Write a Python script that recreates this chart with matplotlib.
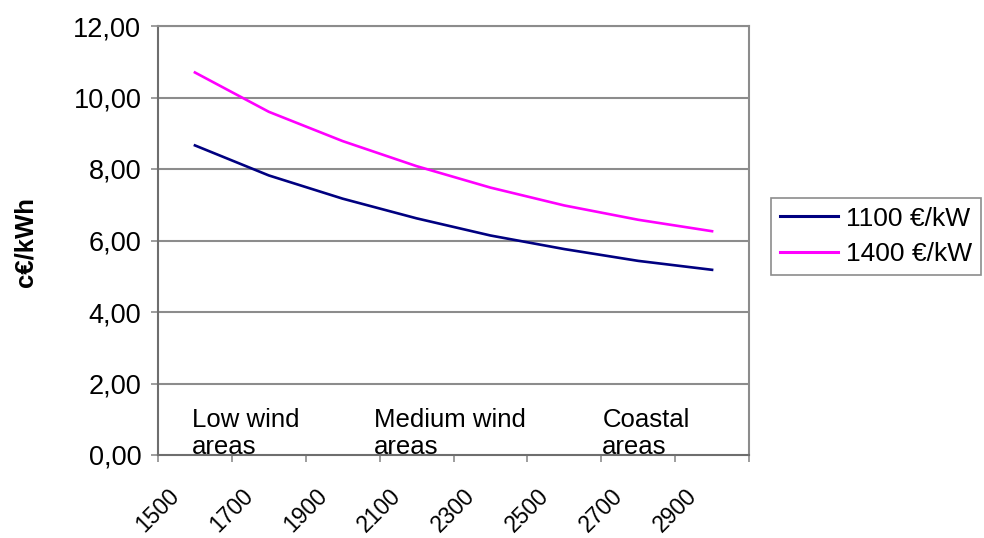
import matplotlib
matplotlib.use("Agg")
import matplotlib.pyplot as plt

# ---- data ----
hours = [1600, 1800, 2000, 2200, 2400, 2600, 2800, 3000]
cost_1100 = [8.66, 7.82, 7.17, 6.62, 6.14, 5.76, 5.43, 5.18]
cost_1400 = [10.70, 9.60, 8.78, 8.08, 7.48, 6.98, 6.58, 6.26]
series_labels = ["1100 €/kW", "1400 €/kW"]
x_ticks = [1500, 1700, 1900, 2100, 2300, 2500, 2700, 2900, 3100]
x_tick_labels = ["1500", "1700", "1900", "2100", "2300", "2500", "2700", "2900", ""]
y_ticks = [0, 2, 4, 6, 8, 10, 12]
y_tick_labels = ["0,00", "2,00", "4,00", "6,00", "8,00", "10,00", "12,00"]
region_x = [1592, 2085, 2703]
region_labels = ["Low wind\nareas", "Medium wind\nareas", "Coastal\nareas"]
y_label = "c€/kWh"

plt.rcParams['font.family'] = ['Liberation Sans', 'DejaVu Sans']

fig = plt.figure(figsize=(9.84, 5.38), dpi=100)
ax = fig.add_axes([158/984, 1-455/538, (749-158)/984, (455-26)/538])

grid_c = "#8c8c8c"
ax.plot(hours, cost_1100, color="#000080", lw=1.9, label=series_labels[0], zorder=3)
ax.plot(hours, cost_1400, color="#ff00ff", lw=1.9, label=series_labels[1], zorder=3)

ax.set_xlim(1500, 3100)
ax.set_ylim(0, 12)
ax.set_yticks(y_ticks)
ax.set_yticklabels(y_tick_labels, fontsize=19.5)
ax.set_xticks(x_ticks)
ax.set_xticklabels(x_tick_labels, fontsize=16.5, rotation=45, ha="center")
ax.tick_params(axis="y", length=5, width=1.2, color=grid_c, pad=7)
ax.tick_params(axis="x", length=5, width=1.2, color=grid_c, pad=16)

for y in y_ticks[1:]:
    ax.axhline(y, color=grid_c, lw=1.5, zorder=1)
for s in ax.spines.values():
    s.set_color(grid_c)
    s.set_linewidth(1.5)
ax.spines['left'].set_color("#6e6e6e")
ax.spines['bottom'].set_color("#6e6e6e")

for xr, lab in zip(region_x, region_labels):
    ax.text(xr, 0.04, lab, fontsize=18.5, va="baseline", ha="left",
            linespacing=1.12, zorder=2)

fig.text(25/984, 1-242/538, y_label, rotation=90, fontsize=18.5,
         fontweight="bold", ha="center", va="center")

leg = fig.legend(loc="upper left", bbox_to_anchor=(771/984, 1-198/538),
                 fontsize=19, frameon=True, fancybox=False, framealpha=1,
                 edgecolor=grid_c, handlelength=2.2, handletextpad=0.3,
                 labelspacing=0.42, borderpad=0.33, borderaxespad=0)
leg.get_frame().set_linewidth(1.2)
for h in leg.get_lines():
    h.set_linewidth(2.2)

fig.savefig("out.png", dpi=100)
